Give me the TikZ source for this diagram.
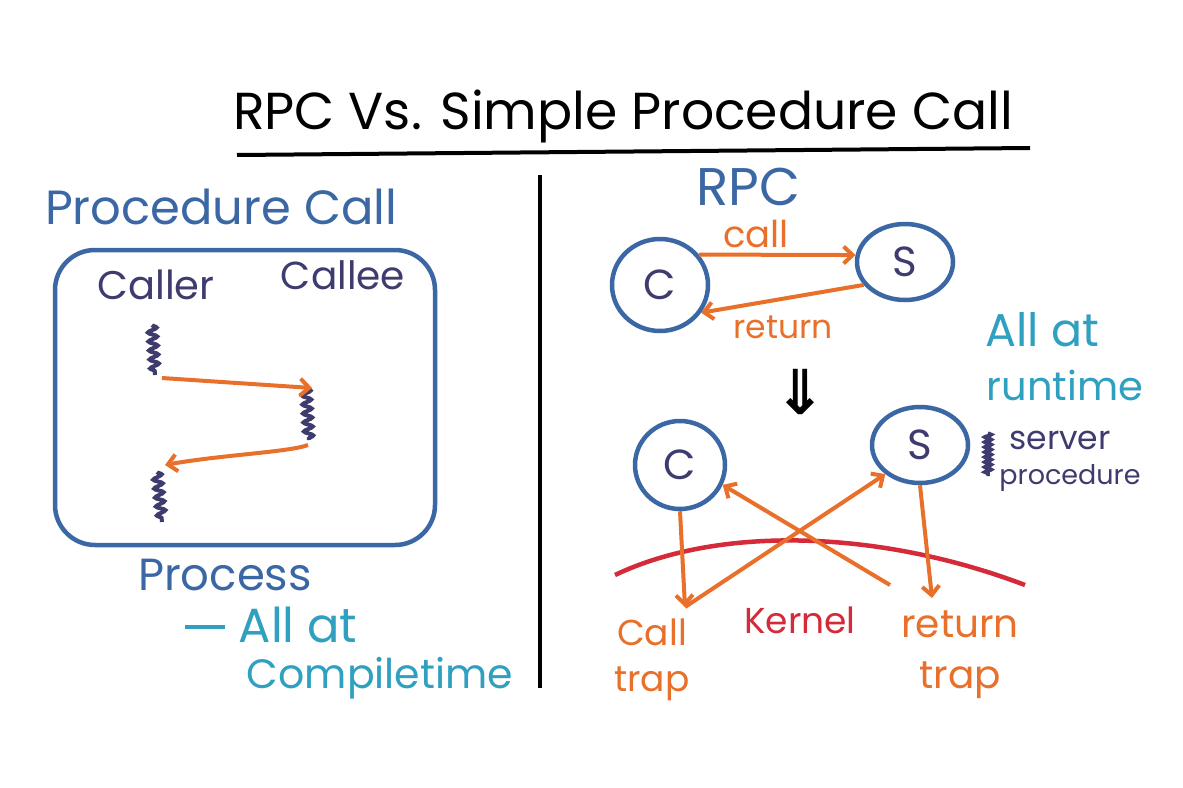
\documentclass[tikz,border=0pt]{standalone}
\usepackage{fontspec}
\setmainfont{Poppins}
\newfontfamily\symfont{DejaVu Sans}
\usetikzlibrary{arrows.meta,shapes.geometric,decorations.pathmorphing}
\definecolor{pblue}{HTML}{3B68A4}
\definecolor{navy}{HTML}{3E3C6E}
\definecolor{korange}{HTML}{E8702A}
\definecolor{kteal}{HTML}{2FA0BF}
\definecolor{kred}{HTML}{D42A3A}
\newcommand{\fs}[1]{\fontsize{#1}{#1}\selectfont}
\newcommand{\fsl}[2]{\fontsize{#1}{#2}\selectfont}
\begin{document}
\begin{tikzpicture}[x=1pt,y=-1pt,
  circ/.style={ellipse,draw=pblue,line width=4.5pt,inner sep=0pt,text=navy,font=\fs{42}},
  oarrow/.style={draw=korange,line width=4pt,-{Straight Barb[length=9pt,width=17pt,line width=4pt]}},
  squig/.style={draw=navy,line width=4pt,decorate,decoration={snake,amplitude=4.5pt,segment length=9pt}},
  lbl/.style={inner sep=0pt,align=center}]
\useasboundingbox[fill=white] (0,0) rectangle (1183,787);

% title
\node[lbl,font=\fs{52}] (title) at (623,116) {RPC Vs. Simple Procedure Call};
\draw[line width=4pt] (237,155) -- (1030,148);
% divider
\draw[line width=4.5pt] (540,175) -- (540,688);

% ---------- left ----------
\node[lbl,font=\fs{48},text=pblue,anchor=west] (pc) at (45,207) {Procedure Call};
\node[draw=pblue,line width=4.5pt,rounded corners=40pt,minimum width=380pt,minimum height=295pt] (proc) at (245,397.5) {};
\node[lbl,font=\fs{40},text=navy] (caller) at (156,285) {Caller};
\node[lbl,font=\fs{39},text=navy] (callee) at (343,275) {Callee};

\draw[squig] (152,325) -- (155,375);
\draw[squig] (306,388) -- (309,440);
\draw[squig] (157,472) -- (162,522);
\coordinate (a1s) at (162,378);
\coordinate (a1e) at (312,388);
\coordinate (a2s) at (308,445);
\coordinate (a2e) at (165,465);
\draw[oarrow] (a1s) -- (a1e);
\draw[oarrow] (a2s) .. controls (290,452) and (220,455) .. (a2e);

\node[lbl,font=\fs{45},text=pblue] (process) at (225,575) {Process};
\draw[kteal,line width=4pt] (185,627) -- (225,627);
\node[lbl,font=\fs{48},text=kteal] (allat1) at (298,625) {All at};
\node[lbl,font=\fs{41},text=kteal] (compile) at (380,678) {Compiletime};

% ---------- right ----------
\node[lbl,font=\fs{53},text=pblue] (rpc) at (748,187) {RPC};
\node[circ,minimum width=96pt,minimum height=92pt] (C1) at (660,285) {C};
\node[circ,minimum width=96pt,minimum height=76pt] (S1) at (905,262) {S};
\draw[oarrow] (C1.38) -- (S1.172);
\draw[oarrow] (S1.209) -- (C1.326);
\node[lbl,font=\fs{37},text=korange] (call) at (756,234) {call};
\node[lbl,font=\fs{33},text=korange] (ret) at (783,327) {return};

\node[lbl,font=\symfont\bfseries\fs{62}] (darr) at (800,392) {⇓};

\node[lbl,font=\fs{46},text=kteal] (allat2) at (1042,330) {All at};
\node[lbl,font=\fs{40},text=kteal] (runtime) at (1065,385) {runtime};

\node[circ,minimum width=90pt,minimum height=88pt] (C2) at (680,465) {C};
\node[circ,minimum width=96pt,minimum height=76pt] (S2) at (920,445) {S};
\draw[draw=navy,line width=3.5pt,decorate,decoration={snake,amplitude=3.5pt,segment length=5pt}] (988,433) -- (988,476);
\node[lbl,font=\fs{33},text=navy] (server) at (1060,440) {server};
\node[lbl,font=\fs{27},text=navy] (sproc) at (1070,478) {procedure};

\draw[kred,line width=4.5pt] (615,575) .. controls (720,525) and (880,530) .. (1025,585);

\coordinate (ct) at (685,607);
\coordinate (rt) at (890,585);
\coordinate (rt2) at (932,598);
\draw[oarrow] (C2.south) -- (ct);
\draw[oarrow] (ct) -- (S2.220);
\draw[oarrow] (rt) -- (C2.335);
\draw[oarrow] (S2.south) -- (rt2);

\node[lbl,font=\fs{36},text=kred] (kernel) at (800,620) {Kernel};
\node[lbl,font=\fsl{36}{46}] (calltrap) at (652,660) {\color{korange}Call\\\color{korange}trap};
\node[lbl,font=\fsl{39}{51}] (rettrap) at (960,655) {\color{korange}return\\\color{korange}trap};
\end{tikzpicture}
\end{document}
